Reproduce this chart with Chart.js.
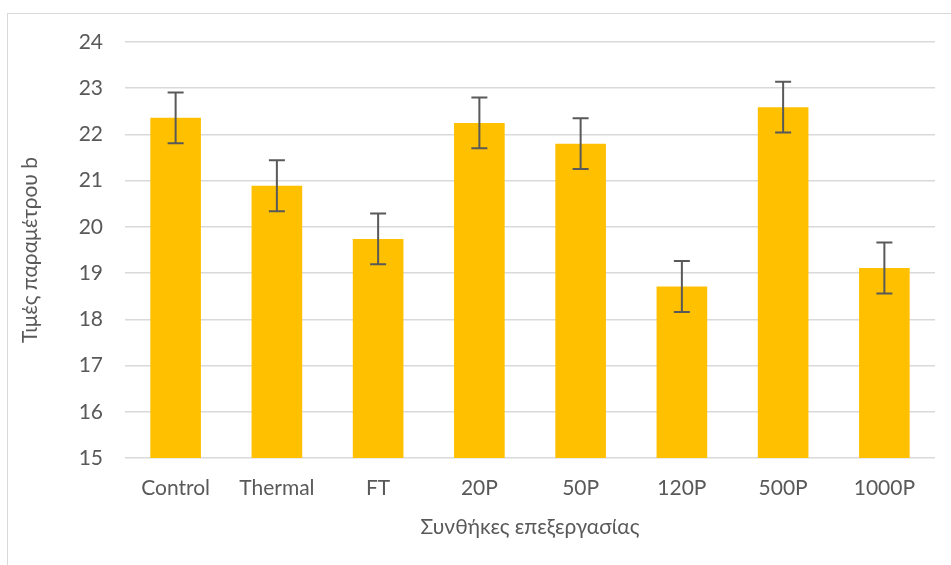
<!DOCTYPE html>
<html>
<head>
<meta charset="utf-8">
<script src="https://cdn.jsdelivr.net/npm/chart.js@4"></script>
<style>
    html, body { margin: 0; padding: 0; background: #fff; }
    #wrap { position: relative; width: 951px; height: 565px; overflow: hidden; }
    #frame { position: absolute; left: 7px; top: 13px; width: 960px; height: 600px; border: 1px solid #d9d9d9; }
    canvas { position: absolute; left: 0; top: 0; }
</style>
</head>
<body>
<div id="wrap">
    <div id="frame"></div>
    <canvas id="chart" width="951" height="565"></canvas>
</div>
<script>
// 데이터
const categories = ['Control', 'Thermal', 'FT', '20P', '50P', '120P', '500P', '1000P'];
const values = [22.36, 20.89, 19.74, 22.25, 21.80, 18.71, 22.59, 19.11];
const errors = [0.55, 0.55, 0.55, 0.55, 0.55, 0.55, 0.55, 0.55];
const yTicks = [15, 16, 17, 18, 19, 20, 21, 22, 23, 24];

const fontFamily = 'Lato, "Noto Sans", sans-serif';
const textColor = '#595959';
const fontSize = 21;

// 오차 막대 그리기
const errorBarPlugin = {
    id: 'errorBars',
    afterDatasetsDraw(chart) {
        const ctx = chart.ctx;
        const meta = chart.getDatasetMeta(0);
        const yScale = chart.scales.y;
        ctx.save();
        ctx.strokeStyle = '#595959';
        ctx.lineWidth = 2;
        meta.data.forEach((bar, i) => {
            const x = bar.x;
            const top = yScale.getPixelForValue(values[i] + errors[i]);
            const bottom = yScale.getPixelForValue(values[i] - errors[i]);
            ctx.beginPath();
            ctx.moveTo(x, top);
            ctx.lineTo(x, bottom);
            ctx.moveTo(x - 8, top);
            ctx.lineTo(x + 8, top);
            ctx.moveTo(x - 8, bottom);
            ctx.lineTo(x + 8, bottom);
            ctx.stroke();
        });
        ctx.restore();
    }
};

new Chart(document.getElementById('chart').getContext('2d'), {
    type: 'bar',
    data: {
        labels: categories,
        datasets: [{
            data: values,
            backgroundColor: '#FFC000',
            borderWidth: 0,
            barPercentage: 0.5,
            categoryPercentage: 1.0
        }]
    },
    options: {
        responsive: false,
        animation: false,
        layout: { padding: { left: 18, right: 16, top: 42, bottom: 0 } },
        plugins: {
            legend: { display: false },
            tooltip: { enabled: false }
        },
        scales: {
            x: {
                grid: { display: false },
                border: { display: false },
                ticks: { color: textColor, font: { family: fontFamily, size: fontSize }, padding: 10, maxRotation: 0 },
                title: {
                    display: true,
                    text: 'Συνθήκες επεξεργασίας',
                    color: textColor,
                    font: { family: fontFamily, size: fontSize },
                    padding: { top: 0, bottom: 25 }
                },
                afterFit: s => { s.height = 107; }
            },
            y: {
                min: 15,
                max: 24,
                afterBuildTicks: s => { s.ticks = yTicks.map(v => ({ value: v })); },
                grid: { color: '#d9d9d9', lineWidth: 1.5, drawTicks: false },
                border: { display: false },
                ticks: { color: textColor, font: { family: fontFamily, size: fontSize }, padding: 22 },
                title: {
                    display: true,
                    text: 'Τιμές παραμέτρου b',
                    color: textColor,
                    font: { family: fontFamily, size: fontSize },
                    padding: 0
                },
                afterFit: s => { s.width = 107; }
            }
        }
    },
    plugins: [errorBarPlugin]
});
</script>
</body>
</html>
